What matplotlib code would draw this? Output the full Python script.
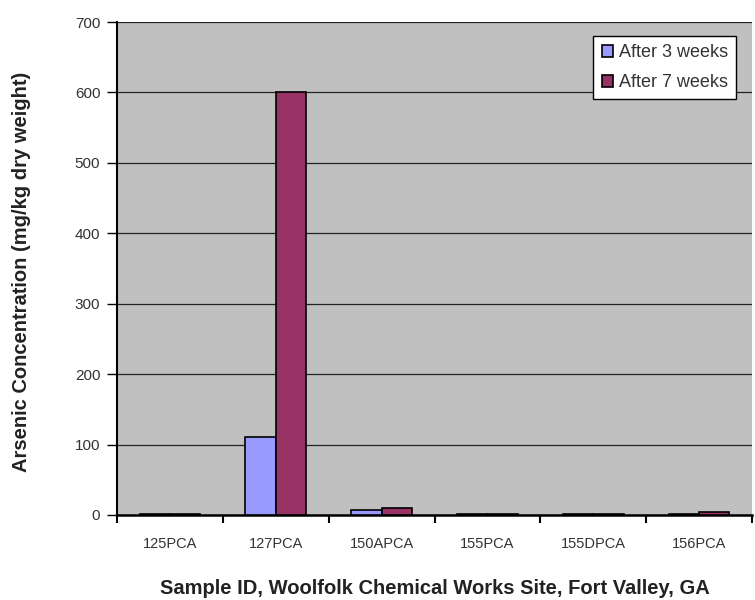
import matplotlib
matplotlib.use("Agg")
import matplotlib.pyplot as plt
import numpy as np

plt.rcParams['font.family'] = ['Liberation Sans', 'DejaVu Sans']

categories = ["125PCA", "127PCA", "150APCA", "155PCA", "155DPCA", "156PCA"]
after_3_weeks = [1, 111, 7, 1, 1, 1]
after_7_weeks = [1, 600, 10, 1, 1, 4]
yticks = [0, 100, 200, 300, 400, 500, 600, 700]

fig = plt.figure(figsize=(7.55, 6.0), dpi=100)
ax = fig.add_axes([117/755, 1-515/600, (752-117)/755, (515-22)/600])
ax.set_facecolor('#C0C0C0')

x = np.arange(len(categories))
w = 0.286
ax.bar(x - w/2, after_3_weeks, w, color='#9999FF', edgecolor='black', linewidth=1.2, label='After 3 weeks', zorder=3)
ax.bar(x + w/2, after_7_weeks, w, color='#993366', edgecolor='black', linewidth=1.2, label='After 7 weeks', zorder=3)

ax.set_xlim(-0.5, len(categories) - 0.5)
ax.set_ylim(0, 700)
ax.set_yticks(yticks)
ax.set_yticklabels([str(v) for v in yticks], fontsize=11, color='#333333')
ax.yaxis.grid(True, color='#222222', linewidth=0.9, zorder=0)
ax.set_xticks(x)
ax.set_xticklabels(categories, fontsize=10.5, color='#333333')
ax.tick_params(axis='x', length=0, pad=16)
ax.set_xticks(np.arange(-0.5, len(categories) + 0.5, 1), minor=True)
ax.tick_params(axis='x', which='minor', length=6, width=1.5, direction='out')
ax.tick_params(axis='y', length=7, width=1, direction='out', pad=5)

for s in ['top', 'right']:
    ax.spines[s].set_visible(False)
ax.spines['left'].set_linewidth(1.5)
ax.spines['bottom'].set_linewidth(1.8)

ax.set_xlabel("Sample ID, Woolfolk Chemical Works Site, Fort Valley, GA", fontsize=14.5, fontweight='bold', color='#222222')
ax.xaxis.set_label_coords((435 - 117) / 635, -(588 - 515) / 493)
ax.xaxis.label.set_va('center')
ax.set_ylabel("Arsenic Concentration (mg/kg dry weight)", fontsize=14.5, fontweight='bold', color='#222222')
ax.yaxis.set_label_coords(-(117 - 22) / 635, (515 - 272) / 493)
ax.yaxis.label.set_va('center')

leg = ax.legend(loc='upper right', bbox_to_anchor=(1 - 16/635, 1 - 14/493), borderaxespad=0,
                fontsize=13, frameon=True, fancybox=False,
                edgecolor='black', framealpha=1, handlelength=0.65, handleheight=0.65, handletextpad=0.3,
                borderpad=0.45, labelspacing=0.72)
leg.get_frame().set_linewidth(1)
for t in leg.get_texts():
    t.set_color('#333333')

fig.savefig("out.png", dpi=100, facecolor='white')
